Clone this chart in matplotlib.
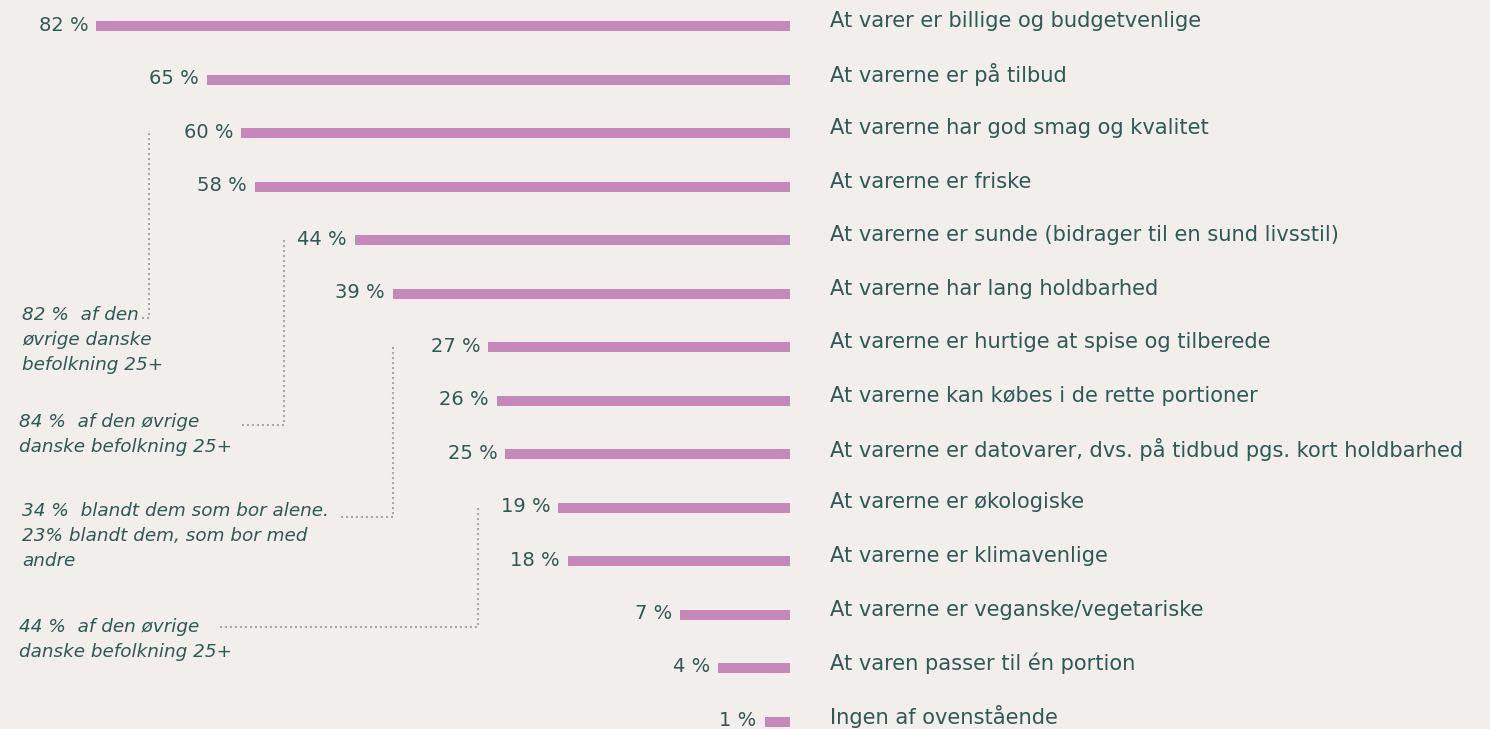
import numpy as np
import matplotlib.pyplot as plt

# data
categories = [
    "At varer er billige og budgetvenlige",
    "At varerne er på tilbud",
    "At varerne har god smag og kvalitet",
    "At varerne er friske",
    "At varerne er sunde (bidrager til en sund livsstil)",
    "At varerne har lang holdbarhed",
    "At varerne er hurtige at spise og tilberede",
    "At varerne kan købes i de rette portioner",
    "At varerne er datovarer, dvs. på tidbud pgs. kort holdbarhed",
    "At varerne er økologiske",
    "At varerne er klimavenlige",
    "At varerne er veganske/vegetariske",
    "At varen passer til én portion",
    "Ingen af ovenstående",
]
values = [82, 65, 60, 58, 44, 39, 27, 26, 25, 19, 18, 7, 4, 1]

notes_row = [2, 4, 6, 9]
notes_text = [
    "82 %  af den\nøvrige danske\nbefolkning 25+",
    "84 %  af den øvrige\ndanske befolkning 25+",
    "34 %  blandt dem som bor alene.\n23% blandt dem, som bor med\nandre",
    "44 %  af den øvrige\ndanske befolkning 25+",
]

BG = "#f2eeeb"
BAR = "#c688bb"
TXT = "#2d5957"
DOT = "#a4aaa8"

W, H = 1490, 729
fig = plt.figure(figsize=(W / 100, H / 100), dpi=100, facecolor=BG)

# bar axes: right edge sits at x=790 px
ax = fig.add_axes([0, 0, 790 / W, 1])
ax.set_facecolor(BG)
p = 0.75
ax.set_xscale("function", functions=(lambda x: np.sign(x) * np.abs(x) ** p,
                                     lambda x: np.sign(x) * np.abs(x) ** (1 / p)))
ax.set_xlim(97.5, 0)
n = len(values)
ax.set_ylim(n - 1 + 7.5 / 53.5, -26 / 53.5)
ax.axis("off")

y = np.arange(n)
ax.barh(y, values, height=10 / 53.5, color=BAR)

for i, v in enumerate(values):
    ax.annotate(f"{v} %", (v, i), xytext=(-8, 1), textcoords="offset pixels",
                ha="right", va="center", fontsize=14, color=TXT)
    ax.annotate(categories[i], (0, i), xytext=(40, 5), textcoords="offset pixels",
                ha="left", va="center", fontsize=15.1, color=TXT,
                annotation_clip=False)

# overlay in pixel coordinates for the side notes
ov = fig.add_axes([0, 0, 1, 1], facecolor="none")
ov.set_xlim(0, W)
ov.set_ylim(H, 0)
ov.axis("off")

note_vx = [149, 284, 393, 478]
note_hx = [141, 241, 341, 218]
note_hy = [318, 425, 517, 627]
note_tx = [22, 19, 22, 19]
note_ty = [306, 413, 502, 618]

fig.canvas.draw()
for k, r in enumerate(notes_row):
    top = ov.transData.inverted().transform(ax.transData.transform((0, r)))[1]
    ov.plot([note_vx[k], note_vx[k], note_hx[k]], [top, note_hy[k], note_hy[k]],
            color=DOT, lw=1.5, ls=(0, (1, 1.4)))
    ov.text(note_tx[k], note_ty[k], notes_text[k], ha="left", va="top",
            fontsize=13.2, style="italic", color=TXT, linespacing=1.5)

fig.savefig("out.png", dpi=100, facecolor=BG)
